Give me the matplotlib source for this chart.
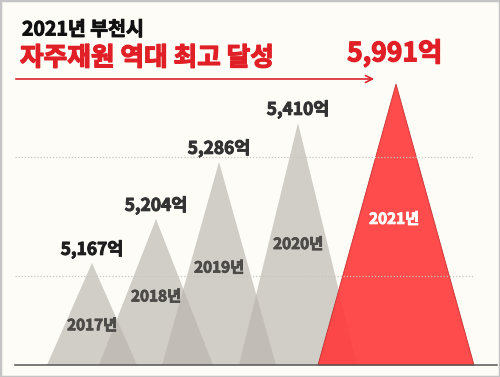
import numpy as np
import matplotlib.pyplot as plt
import matplotlib.patheffects as pe
from matplotlib.patches import Polygon, Rectangle, FancyArrowPatch
from matplotlib.lines import Line2D

plt.rcParams['font.family'] = ['Noto Sans CJK KR', 'DejaVu Sans']

# data: 부천시 자주재원 (억원)
years = ['2017년', '2018년', '2019년', '2020년', '2021년']
values = [5167, 5204, 5286, 5410, 5991]
value_labels = ['5,167억', '5,204억', '5,286억', '5,410억', '5,991억']

# layout (pixels of a 500x377 canvas)
centers = [92, 156, 219, 298, 396]
half_widths = [45, 57, 57, 59, 78]
year_frac = [0.39, 0.47, 0.48, 0.50, 0.52]   # where the year label sits inside each peak
base_value = 5000

# the infographic is not drawn to scale: peaks are spaced by rank, so the
# value axis is a piecewise scale (value -> pixel height above the baseline)
scale_v = [4990, base_value, 5167, 5204, 5286, 5410, 5991, 6300]
scale_h = [-12, 0, 102, 146, 203, 242, 281, 365]

def fwd(v):
    return np.interp(v, scale_v, scale_h)

def inv(h):
    return np.interp(h, scale_h, scale_v)

bg = '#fdfcf6'
gray = '#b8b3ad'
red = '#ff3c3c'
title_red = '#e01f26'

def bold(color, w=0.7):
    # the installed CJK bold is lighter than the original, thicken it a bit
    return [pe.withStroke(linewidth=w, foreground=color)]

fig = plt.figure(figsize=(5, 3.77), dpi=100, facecolor=bg)
ax = fig.add_axes([0, 0, 1, 1])
ax.set_facecolor(bg)
ax.set_xlim(0, 500)
ax.set_yscale('function', functions=(fwd, inv))
ax.set_ylim(scale_v[0], scale_v[-1])
ax.axis('off')

def fx(px):
    return px / 500

def fy(py):
    return 1 - py / 377

# dotted guide lines
for py in [157, 276]:
    fig.add_artist(Line2D([fx(15), fx(473)], [fy(py), fy(py)], color='#c9c6c0',
                          lw=0.9, ls=(0, (1, 1.5))))

# peaks
for i, (yr, v) in enumerate(zip(years, values)):
    cx, hw = centers[i], half_widths[i]
    last = i == len(values) - 1
    tri = Polygon([(cx - hw, base_value), (cx, v), (cx + hw, base_value)], closed=True,
                  facecolor=red if last else gray,
                  edgecolor='#c22a2a' if last else 'none',
                  lw=0.6, alpha=0.92 if last else 0.64, zorder=2 + i)
    ax.add_patch(tri)

    ylab = inv(year_frac[i] * fwd(v))
    ycol = 'white' if last else '#4d4b48'
    ax.text(cx - 2 if last else cx, ylab, yr, ha='center', va='center',
            fontsize=11, fontweight='bold', color=ycol, zorder=10,
            path_effects=bold(ycol, 0.6))

    if last:
        ax.annotate(value_labels[i], (cx, v), xytext=(-1, 12), textcoords='offset points',
                    ha='center', va='bottom', fontsize=19, fontweight='bold',
                    color=title_red, zorder=10, path_effects=bold(title_red, 0.9))
    else:
        vcol = '#1e1e1e' if i == 0 else '#333333'
        ax.annotate(value_labels[i], (cx, v), xytext=(0, 3), textcoords='offset points',
                    ha='center', va='bottom', fontsize=12.5, fontweight='bold',
                    color=vcol, zorder=10, path_effects=bold(vcol))

# baseline
fig.add_artist(Line2D([fx(15), fx(497)], [fy(365), fy(365)], color='#555555', lw=1.1))

# titles
fig.text(fx(22), fy(30), '2021년 부천시', fontsize=14, fontweight='bold',
         color='#111111', ha='left', va='center', path_effects=bold('#111111'))
fig.text(fx(20), fy(58), '자주재원 역대 최고 달성', fontsize=18.5, fontweight='bold',
         color=title_red, ha='left', va='center', path_effects=bold(title_red, 0.9))

# arrow under the title
fig.add_artist(FancyArrowPatch((fx(13), fy(79)), (fx(377), fy(79)),
                               transform=fig.transFigure, arrowstyle='->,head_length=5,head_width=2.5',
                               color='#d9262c', lw=1.2))

# frame
fig.add_artist(Rectangle((0, 0), 1, 1, transform=fig.transFigure, fill=False,
                         edgecolor='#c4c4c4', lw=2.5))

fig.savefig('out.png', dpi=100, facecolor=bg)
